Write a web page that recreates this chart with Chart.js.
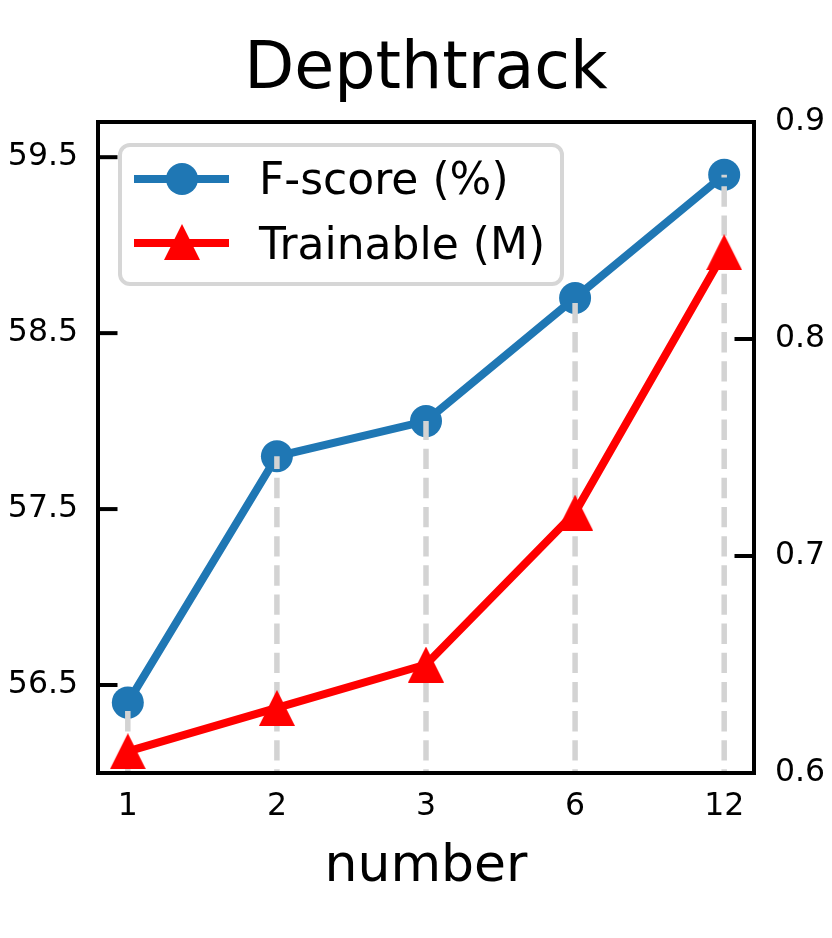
<!DOCTYPE html>
<html><head><meta charset="utf-8">
<script src="https://cdn.jsdelivr.net/npm/chart.js@4.4.1/dist/chart.umd.min.js"></script>
<style>html,body{margin:0;padding:0;background:#fff}#wrap{width:832px;height:938px;position:relative}</style>
</head><body><div id="wrap"><canvas id="c"></canvas></div>
<script>
// ---- data ----
const categories = ['1', '2', '3', '6', '12'];
const fscore = [56.4, 57.8, 58.0, 58.7, 59.4];
const trainable = [0.61, 0.63, 0.65, 0.72, 0.84];
const leftTicks = [56.5, 57.5, 58.5, 59.5];
const rightTicks = [0.6, 0.7, 0.8, 0.9];
const leftRange = [56.0, 59.70];
const rightRange = [0.6, 0.9];
const guideBottom = 56.0;
const seriesNames = ['F-score (%)', 'Trainable (M)'];
const titleText = 'Depthtrack';
const xTitle = 'number';

// ---- style ----
const BLUE = '#1f77b4', RED = '#ff0000', GUIDE = '#d3d3d3';
const FONT = "'DejaVu Sans', sans-serif";

function triangleCanvas(size, color) {
  const c = document.createElement('canvas');
  c.width = size; c.height = size;
  const g = c.getContext('2d');
  g.fillStyle = color;
  g.beginPath(); g.moveTo(size / 2, 0); g.lineTo(size, size); g.lineTo(0, size); g.closePath(); g.fill();
  return c;
}
const tri = triangleCanvas(36, RED);

const framePlugin = {
  id: 'frame',
  afterDatasetsDraw(chart) {
    const { ctx, chartArea: ca, scales } = chart;
    ctx.save();
    ctx.strokeStyle = '#000';
    ctx.lineWidth = 4;
    ctx.lineCap = 'butt';
    const L = 19.5;
    scales.y.ticks.forEach(t => {
      const y = scales.y.getPixelForValue(t.value);
      ctx.beginPath(); ctx.moveTo(ca.left, y); ctx.lineTo(ca.left + L, y); ctx.stroke();
    });
    scales.y2.ticks.forEach(t => {
      const y = scales.y2.getPixelForValue(t.value);
      ctx.beginPath(); ctx.moveTo(ca.right, y); ctx.lineTo(ca.right - L, y); ctx.stroke();
    });
    ctx.strokeRect(ca.left, ca.top, ca.right - ca.left, ca.bottom - ca.top);
    ctx.restore();
  }
};

const legendPlugin = {
  id: 'boxLegend',
  afterDraw(chart) {
    const { ctx, chartArea: ca } = chart;
    const x0 = ca.left + 22, y0 = ca.top + 23, w = 442, h = 139;
    ctx.save();
    ctx.beginPath();
    ctx.roundRect(x0, y0, w, h, 10);
    ctx.fillStyle = 'rgba(255,255,255,0.8)';
    ctx.fill();
    ctx.lineWidth = 4;
    ctx.strokeStyle = '#d6d6d6';
    ctx.stroke();
    const lx1 = ca.left + 36, lx2 = ca.left + 131, mx = ca.left + 84, tx = ca.left + 161;
    // row 1
    let y = ca.top + 57;
    ctx.strokeStyle = BLUE; ctx.lineWidth = 8; ctx.lineCap = 'butt';
    ctx.beginPath(); ctx.moveTo(lx1, y); ctx.lineTo(lx2, y); ctx.stroke();
    ctx.fillStyle = BLUE; ctx.beginPath(); ctx.arc(mx, y, 16, 0, Math.PI * 2); ctx.fill();
    ctx.fillStyle = '#000'; ctx.font = '44px ' + FONT; ctx.textBaseline = 'alphabetic'; ctx.textAlign = 'left';
    ctx.fillText(seriesNames[0], tx, ca.top + 72);
    // row 2
    y = ca.top + 121;
    ctx.strokeStyle = RED;
    ctx.beginPath(); ctx.moveTo(lx1, y); ctx.lineTo(lx2, y); ctx.stroke();
    ctx.drawImage(tri, mx - 18, y - 19, 36, 36);
    ctx.fillStyle = '#000';
    ctx.fillText(seriesNames[1], tx, ca.top + 137);
    ctx.restore();
  }
};

const datasets = [
  {
    label: seriesNames[1], yAxisID: 'y2', order: 0,
    data: trainable.map((v, i) => ({ x: i, y: v })),
    borderColor: RED, backgroundColor: RED, borderWidth: 8,
    pointStyle: tri, pointRadius: 18, pointBorderWidth: 0
  },
  ...fscore.map((v, i) => ({
    label: 'guide' + i, yAxisID: 'y', order: 1,
    data: [{ x: i, y: guideBottom }, { x: i, y: v }],
    borderColor: GUIDE, borderWidth: 5.5, borderDash: [20.35, 8.8], borderDashOffset: 16.7, pointRadius: 0
  })),
  {
    label: seriesNames[0], yAxisID: 'y', order: 2,
    data: fscore.map((v, i) => ({ x: i, y: v })),
    borderColor: BLUE, backgroundColor: BLUE, borderWidth: 8,
    pointStyle: 'circle', pointRadius: 16, pointBorderWidth: 0
  }
];

const tickFont = { family: FONT, size: 31.5 };

new Chart(document.getElementById('c'), {
  type: 'line',
  data: { datasets },
  plugins: [framePlugin, legendPlugin],
  options: {
    responsive: true, maintainAspectRatio: false, animation: false, events: [],
    layout: { padding: 0 },
    plugins: {
      legend: { display: false },
      tooltip: { enabled: false },
      title: {
        display: true, fullSize: false, text: titleText, color: '#000',
        font: { family: FONT, size: 65, weight: 'normal', lineHeight: 1 },
        padding: { top: 39, bottom: 18 }
      }
    },
    scales: {
      x: {
        type: 'linear', min: -0.2, max: 4.2,
        grid: { display: false, drawTicks: false }, border: { display: false },
        afterBuildTicks: s => { s.ticks = categories.map((c, i) => ({ value: i })); },
        ticks: { callback: v => categories[v], color: '#000', font: tickFont, padding: 15, maxRotation: 0, autoSkip: false },
        title: { display: true, text: xTitle, color: '#000', font: { family: FONT, size: 52 }, padding: { top: 0, bottom: 39 } },
        afterFit: s => { s.height = 165; }
      },
      y: {
        type: 'linear', position: 'left', min: leftRange[0], max: leftRange[1],
        grid: { display: false, drawTicks: false }, border: { display: false },
        afterBuildTicks: s => { s.ticks = leftTicks.map(v => ({ value: v })); },
        ticks: { callback: v => v.toFixed(1), color: '#000', font: tickFont, padding: 20 },
        afterFit: s => { s.width = 98; }
      },
      y2: {
        type: 'linear', position: 'right', min: rightRange[0], max: rightRange[1],
        grid: { display: false, drawTicks: false, drawOnChartArea: false }, border: { display: false },
        afterBuildTicks: s => { s.ticks = rightTicks.map(v => ({ value: v })); },
        ticks: { callback: v => v.toFixed(1), color: '#000', font: tickFont, padding: 21 },
        afterFit: s => { s.width = 78; }
      }
    }
  }
});
</script></body></html>
